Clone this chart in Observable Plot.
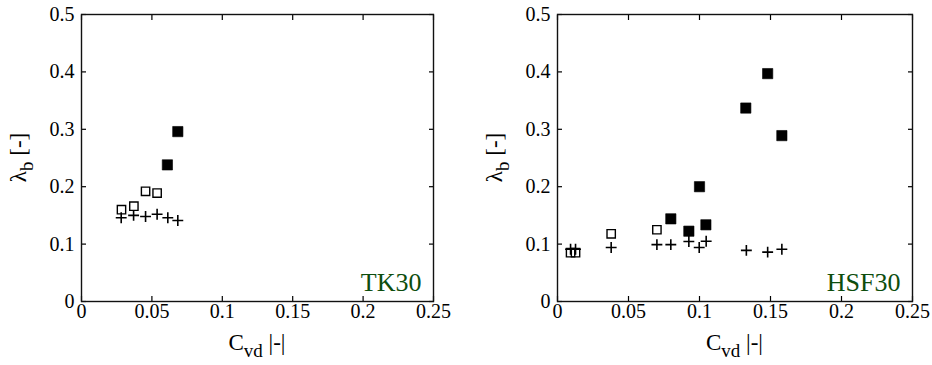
<!DOCTYPE html>
<html>
<head>
<meta charset="utf-8">
<script src="https://cdn.jsdelivr.net/npm/d3@7"></script>
<script src="https://cdn.jsdelivr.net/npm/@observablehq/plot@0.6"></script>
<style>
  html, body { margin: 0; padding: 0; background: #fff; }
  #wrap { display: flex; width: 932px; height: 365px; }
  #wrap svg, #wrap svg text { font-family: "Liberation Serif", "Times New Roman", Times, "DejaVu Serif", serif !important; }
</style>
</head>
<body>
<div id="wrap"></div>
<script>
// ---- data ----
const xTicks = [0, 0.05, 0.1, 0.15, 0.2, 0.25];
const xTickLabels = ["0", "0.05", "0.1", "0.15", "0.2", "0.25"];
const yTicks = [0, 0.1, 0.2, 0.3, 0.4, 0.5];
const yTickLabels = ["0", "0.1", "0.2", "0.3", "0.4", "0.5"];

// TK30
const tkFilledX = [0.061, 0.0684];
const tkFilledY = [0.238, 0.296];
const tkOpenX = [0.0284, 0.0372, 0.0455, 0.0537];
const tkOpenY = [0.160, 0.166, 0.192, 0.189];
const tkPlusX = [0.0282, 0.037, 0.0455, 0.0537, 0.0613, 0.0684];
const tkPlusY = [0.146, 0.150, 0.148, 0.152, 0.146, 0.141];

// HSF30
const hsFilledX = [0.0798, 0.0925, 0.100, 0.1045, 0.1326, 0.148, 0.158];
const hsFilledY = [0.144, 0.1225, 0.200, 0.1336, 0.337, 0.397, 0.289];
const hsOpenX = [0.0092, 0.0127, 0.0378, 0.070];
const hsOpenY = [0.085, 0.085, 0.118, 0.125];
const hsPlusX = [0.0092, 0.0127, 0.0378, 0.070, 0.0798, 0.0925, 0.0998, 0.1047, 0.133, 0.148, 0.158];
const hsPlusY = [0.091, 0.091, 0.094, 0.099, 0.099, 0.1045, 0.094, 0.105, 0.089, 0.086, 0.091];

const panelNames = ["TK30", "HSF30"];
const xLabelMain = "C", xLabelSub = "vd", xLabelTail = " |-|";
const yLabelMain = "λ", yLabelSub = "b", yLabelTail = " [-]";

const FONT = '"Liberation Serif", "Times New Roman", Times, "DejaVu Serif", serif';
const zip = (xs, ys) => xs.map((x, i) => ({x, y: ys[i]}));

function panel({filled, open, plus, name, marginLeft, marginRight}) {
  const W = 466, H = 365;
  const fmtX = (d) => xTickLabels[xTicks.indexOf(d)];
  const fmtY = (d) => yTickLabels[yTicks.indexOf(d)];
  const svg = Plot.plot({
    width: W, height: H,
    marginLeft, marginRight, marginTop: 14, marginBottom: 64,
    style: {fontFamily: FONT, fontSize: "20px", color: "#000", background: "#fff"},
    x: {domain: [0, 0.25]},
    y: {domain: [0, 0.5]},
    marks: [
      Plot.axisX({anchor: "bottom", ticks: xTicks, tickSize: -5, tickFormat: () => "", label: null, strokeWidth: 1.2}),
      Plot.axisX({anchor: "top", ticks: xTicks, tickSize: -5, tickFormat: () => "", label: null, strokeWidth: 1.2}),
      Plot.axisY({anchor: "left", ticks: yTicks, tickSize: -5, tickFormat: () => "", label: null, strokeWidth: 1.2}),
      Plot.axisY({anchor: "right", ticks: yTicks, tickSize: -5, tickFormat: () => "", label: null, strokeWidth: 1.2}),
      Plot.axisX({anchor: "bottom", ticks: xTicks, tickSize: 0, tickPadding: 2, tickFormat: fmtX, label: null, fontSize: 20}),
      Plot.axisY({anchor: "left", ticks: yTicks, tickSize: 0, tickPadding: 7, tickFormat: fmtY, label: null, fontSize: 20}),
      Plot.frame({stroke: "#111", strokeWidth: 1.4}),
      Plot.dot(plus, {x: "x", y: "y", symbol: "plus", r: 3.6, stroke: "#000", strokeWidth: 1.6}),
      Plot.dot(open, {x: "x", y: "y", symbol: "square", r: 4.7, stroke: "#000", fill: "none", strokeWidth: 1.4}),
      Plot.dot(filled, {x: "x", y: "y", symbol: "square", r: 5.8, fill: "#000", stroke: "#000", strokeWidth: 0.6}),
      Plot.text([name], {frameAnchor: "bottom-right", text: (d) => d, textAnchor: "end", lineAnchor: "bottom",
        dx: -12, dy: -11, fontSize: 26, fill: "#0d4d0d"})
    ]
  });
  const s = d3.select(svg);
  const cx = marginLeft + (W - marginLeft - marginRight) / 2;
  // x label with subscript
  const xl = s.append("text")
    .attr("x", cx).attr("y", 350)
    .attr("text-anchor", "middle")
    .attr("font-family", FONT)
    .attr("font-size", 23).attr("fill", "#000");
  xl.append("tspan").text(xLabelMain);
  xl.append("tspan").attr("dy", 7).attr("font-size", 19).text(xLabelSub);
  xl.append("tspan").attr("dy", -7).text(xLabelTail);
  // y label with subscript
  const yl = s.append("text")
    .attr("transform", `translate(${marginLeft - 55},${14 + (H - 14 - 64) / 2}) rotate(-90)`)
    .attr("text-anchor", "middle")
    .attr("font-family", FONT)
    .attr("font-size", 23).attr("fill", "#000");
  yl.append("tspan").text(yLabelMain);
  yl.append("tspan").attr("dy", 7).attr("font-size", 19).text(yLabelSub);
  yl.append("tspan").attr("dy", -7).text(yLabelTail);
  return svg;
}

const wrap = document.getElementById("wrap");
wrap.append(panel({
  filled: zip(tkFilledX, tkFilledY), open: zip(tkOpenX, tkOpenY), plus: zip(tkPlusX, tkPlusY),
  name: panelNames[0], marginLeft: 81, marginRight: 33
}));
wrap.append(panel({
  filled: zip(hsFilledX, hsFilledY), open: zip(hsOpenX, hsOpenY), plus: zip(hsPlusX, hsPlusY),
  name: panelNames[1], marginLeft: 91, marginRight: 20
}));
</script>
</body>
</html>
